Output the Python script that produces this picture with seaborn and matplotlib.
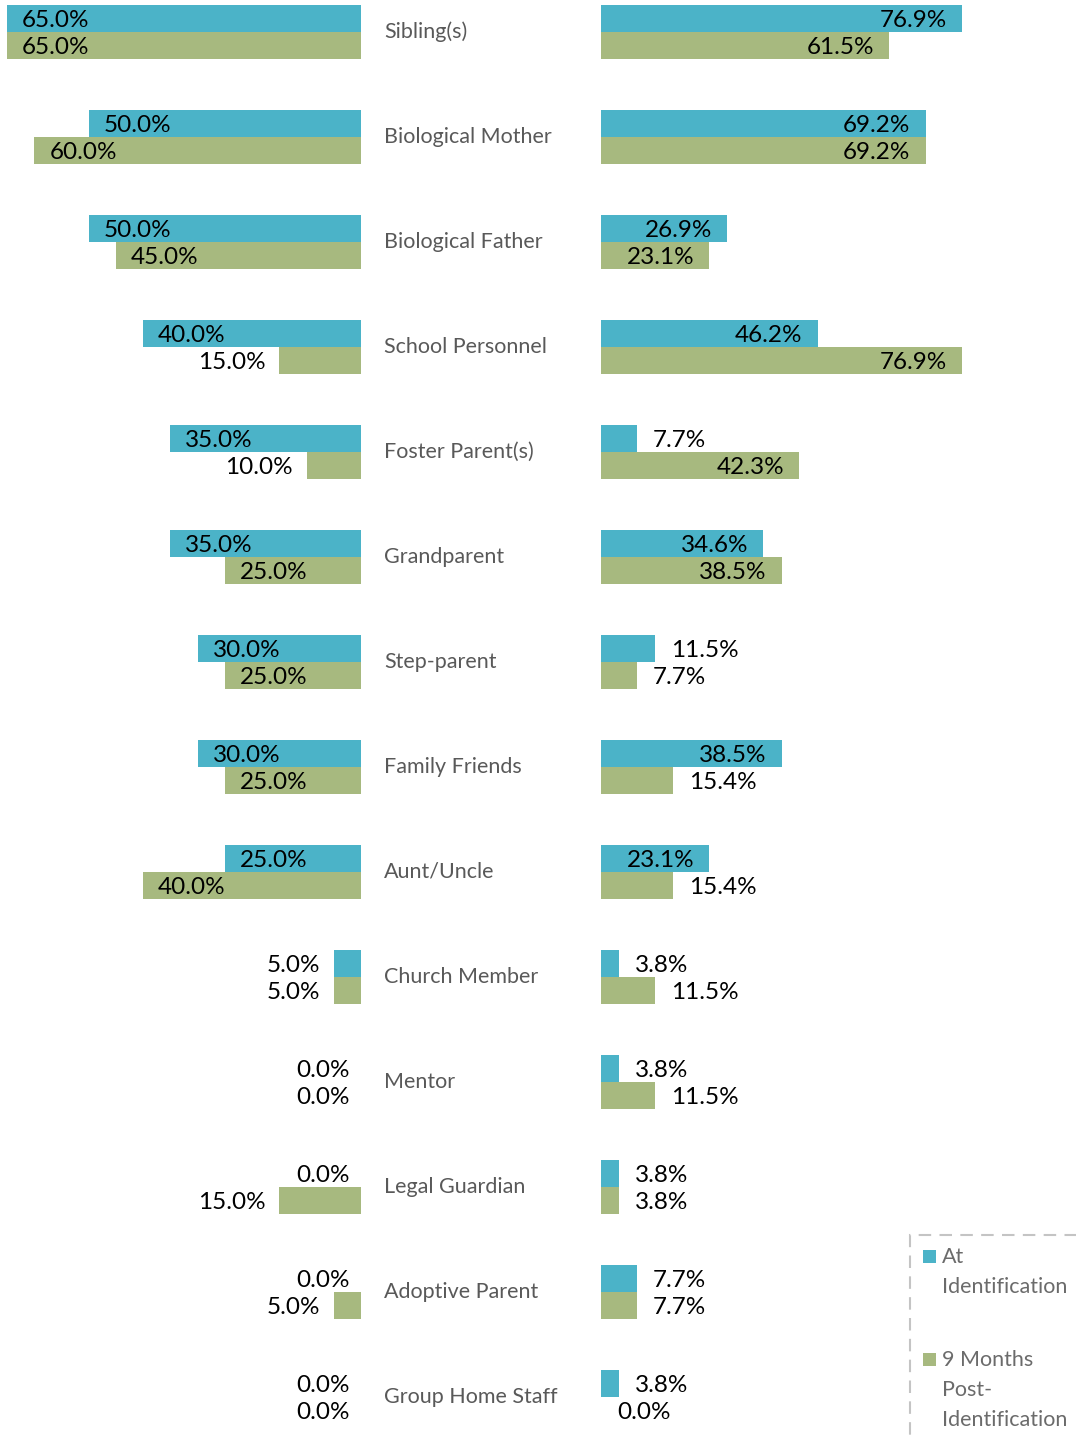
import pandas as pd
import matplotlib
matplotlib.use('Agg')
import matplotlib.pyplot as plt
import matplotlib.transforms as mtransforms
from matplotlib.patches import Rectangle
import seaborn as sns

categories = ["Sibling(s)", "Biological Mother", "Biological Father", "School Personnel",
              "Foster Parent(s)", "Grandparent", "Step-parent", "Family Friends",
              "Aunt/Uncle", "Church Member", "Mentor", "Legal Guardian",
              "Adoptive Parent", "Group Home Staff"]
left_at = [65.0, 50.0, 50.0, 40.0, 35.0, 35.0, 30.0, 30.0, 25.0, 5.0, 0.0, 0.0, 0.0, 0.0]
left_9m = [65.0, 60.0, 45.0, 15.0, 10.0, 25.0, 25.0, 25.0, 40.0, 5.0, 0.0, 15.0, 5.0, 0.0]
right_at = [76.9, 69.2, 26.9, 46.2, 7.7, 34.6, 11.5, 38.5, 23.1, 3.8, 3.8, 3.8, 7.7, 3.8]
right_9m = [61.5, 69.2, 23.1, 76.9, 42.3, 38.5, 7.7, 15.4, 15.4, 11.5, 11.5, 3.8, 7.7, 0.0]
series = ["At Identification", "9 Months Post-Identification"]
legend_labels = ["At\nIdentification", "9 Months\nPost-\nIdentification"]

BLUE = '#4bb3c8'
GREEN = '#a7b97f'
GREY = '#595959'

sns.set_style('white')
plt.rcParams['font.family'] = ['Lato', 'DejaVu Sans']


def long_form(at, nine):
    return pd.DataFrame({
        'category': categories * 2,
        'value': at + nine,
        'series': [series[0]] * len(categories) + [series[1]] * len(categories),
    })


W, H = 1076, 1437
fig = plt.figure(figsize=(W / 100, H / 100), dpi=100)
ax_l = fig.add_axes([0, 0, 361 / W, 1])
ax_r = fig.add_axes([601 / W, 0, 1 - 601 / W, 1])

ylim = (13 + (H - 1397) / 105, -32 / 105)

for ax, at, nine, side in [(ax_l, left_at, left_9m, 'left'), (ax_r, right_at, right_9m, 'right')]:
    sns.barplot(data=long_form(at, nine), y='category', x='value', hue='series',
                orient='h', palette=[BLUE, GREEN], width=0.514, saturation=1,
                linewidth=0, legend=False, ax=ax)
    ax.set_ylim(*ylim)
    if side == 'left':
        ax.set_xlim(361 / 5.445, 0)
    else:
        ax.set_xlim(0, (W - 601) / 4.69)
    ax.set_axis_off()

    for cont in ax.containers:
        for bar in cont:
            v = bar.get_width()
            y = bar.get_y() + bar.get_height() / 2
            inside = v >= 20
            if side == 'left':
                off, ha = (15, 'left') if inside else ((-11 if v == 0 else -14), 'right')
            else:
                off, ha = (-15, 'right') if inside else (16, 'left')
            ax.annotate(f'{v:.1f}%', xy=(v, y), xytext=(off, -2),
                        textcoords='offset pixels', ha=ha, va='center',
                        fontsize=17.5, color='black')

# category names in the gap between the two panels
trans = mtransforms.blended_transform_factory(fig.transFigure, ax_r.transData)
for i, cat in enumerate(categories):
    fig.text(384 / W, i, cat, transform=trans, ha='left', va='center',
             fontsize=15.5, color=GREY)

# legend: dashed box running off the bottom-right corner
fig.patches.append(Rectangle((910 / W, -0.05), 0.2, 1 - 1235 / H + 0.05,
                             transform=fig.transFigure, fill=False,
                             edgecolor='#c4c4c4', linewidth=1.5,
                             linestyle=(0, (6, 4)), clip_on=False))
for color, label, top in [(BLUE, legend_labels[0], 1250), (GREEN, legend_labels[1], 1353)]:
    fig.patches.append(Rectangle((923 / W, 1 - (top + 13) / H), 13 / W, 13 / H,
                                 transform=fig.transFigure, facecolor=color,
                                 edgecolor='none'))
    fig.text(942 / W, 1 - (top - 3) / H, label, ha='left', va='top',
             fontsize=15.5, color='#6b6b6b', linespacing=1.62)

fig.savefig('out.png', dpi=100)
